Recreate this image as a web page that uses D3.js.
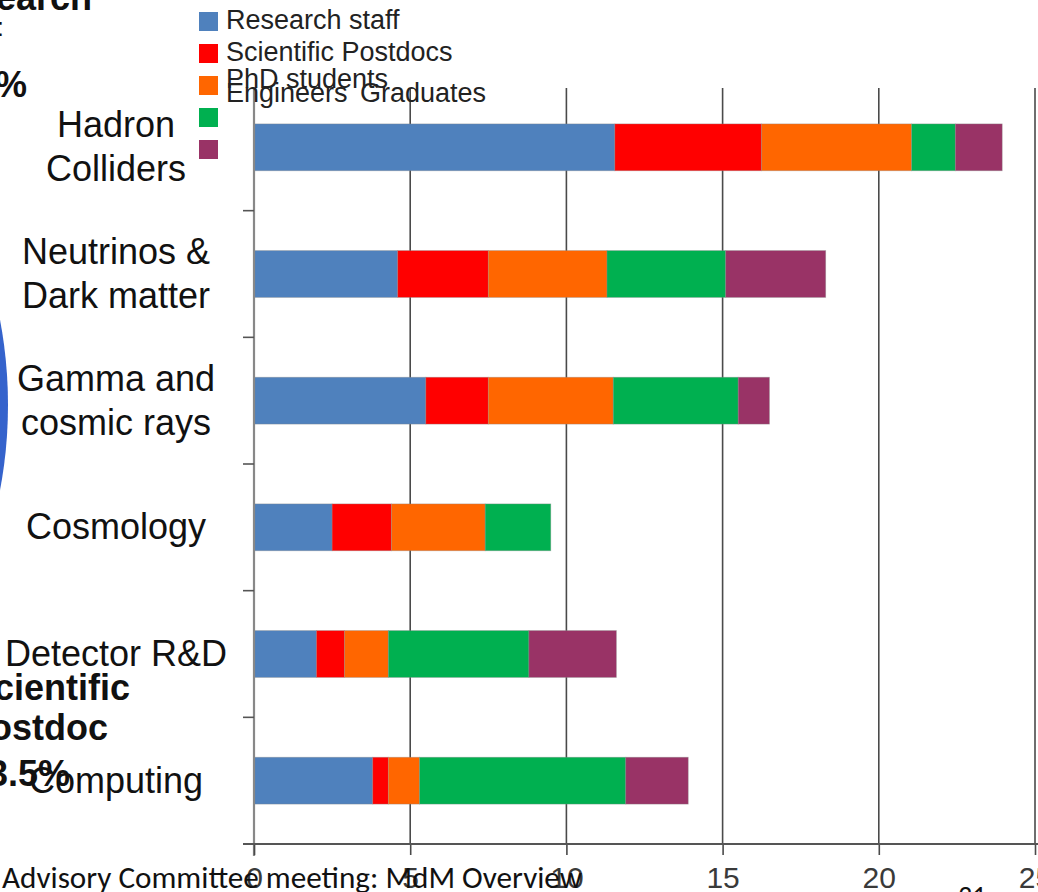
<!DOCTYPE html>
<html>
<head>
<meta charset="utf-8">
<script src="https://cdn.jsdelivr.net/npm/d3@7"></script>
<style>
  html, body { margin: 0; padding: 0; background: #fff; }
  svg { display: block; }
</style>
</head>
<body>
<script>
// Staff per research line, stacked by position type (FTE)
const categories = ["Hadron Colliders", "Neutrinos & Dark matter", "Gamma and cosmic rays",
                    "Cosmology", "Detector R&D", "Computing"];
const categoryLines = [["Hadron", "Colliders"], ["Neutrinos &", "Dark matter"],
                       ["Gamma and", "cosmic rays"], ["Cosmology"], ["Detector R&D"], ["Computing"]];

const seriesNames = ["Research staff", "Scientific Postdocs", "PhD students", "Engineers", "Graduates"];
const researchStaff = [11.55, 4.6, 5.5, 2.5, 2.0, 3.8];
const postdocs      = [4.7, 2.9, 2.0, 1.9, 0.9, 0.5];
const phdStudents   = [4.8, 3.8, 4.0, 3.0, 1.4, 1.0];
const engineers     = [1.4, 3.8, 4.0, 2.1, 4.5, 6.6];
const graduates     = [1.5, 3.2, 1.0, 0.0, 2.8, 2.0];
const xTicks = [0, 5, 10, 15, 20, 25];

const colors = ["#4f81bd", "#ff0000", "#ff6600", "#00b050", "#993366"];

const W = 1038, H = 892;
const svg = d3.select("body").append("svg").attr("width", W).attr("height", H);
svg.append("rect").attr("width", W).attr("height", H).attr("fill", "#fff");

const plotTop = 84, plotBottom = 844;
const x = d3.scaleLinear().domain([0, 25]).range([254, 1035]);
const y = d3.scaleBand().domain(categories).range([plotTop, plotBottom])
  .paddingInner(0.63).paddingOuter(0.315);

// stacked layout
const rows = categories.map((c, i) => ({
  cat: c,
  "Research staff": researchStaff[i],
  "Scientific Postdocs": postdocs[i],
  "PhD students": phdStudents[i],
  "Engineers": engineers[i],
  "Graduates": graduates[i]
}));
const stacked = d3.stack().keys(seriesNames)(rows);

// vertical gridlines
svg.append("g").selectAll("line").data(xTicks.slice(1)).join("line")
  .attr("x1", d => x(d)).attr("x2", d => x(d))
  .attr("y1", 88).attr("y2", plotBottom)
  .attr("stroke", "#4a4a4a").attr("stroke-width", 1.6);

// bars
svg.append("g").selectAll("g").data(stacked).join("g")
  .attr("fill", (d, i) => colors[i])
  .selectAll("rect").data(d => d.filter(s => s[1] > s[0])).join("rect")
  .attr("x", d => x(d[0]))
  .attr("width", d => x(d[1]) - x(d[0]))
  .attr("y", d => y(d.data.cat))
  .attr("height", y.bandwidth())
  .attr("stroke", "rgba(140,140,140,0.45)").attr("stroke-width", 0.8);

// y axis line and category separators
svg.append("line").attr("x1", 254).attr("x2", 254).attr("y1", 88).attr("y2", plotBottom + 12)
  .attr("stroke", "#888").attr("stroke-width", 2.2);
const step = y.step();
const boundaries = categories.slice(1).map(c => y(c) - step * y.paddingInner() / 2);
svg.append("g").selectAll("line").data(boundaries).join("line")
  .attr("x1", 243).attr("x2", 254).attr("y1", d => d).attr("y2", d => d)
  .attr("stroke", "#555").attr("stroke-width", 1.6);

// x axis
const xAxis = svg.append("g").attr("transform", `translate(0,${plotBottom})`)
  .call(d3.axisBottom(x).tickValues(xTicks).tickSizeInner(11).tickSizeOuter(0).tickPadding(12));
xAxis.select(".domain").remove();
xAxis.append("line").attr("x1", 243).attr("x2", W).attr("y1", 0).attr("y2", 0)
  .attr("stroke", "#555").attr("stroke-width", 1.8);
xAxis.selectAll(".tick line").attr("stroke", "#4a4a4a").attr("stroke-width", 1.6);
xAxis.selectAll(".tick text")
  .attr("font-family", "Liberation Sans, Arial, sans-serif")
  .attr("font-size", 30).attr("fill", "#3a3a3a");

// category labels
const lab = svg.append("g").attr("font-family", "Liberation Sans, Arial, sans-serif")
  .attr("font-size", 36).attr("fill", "#111").attr("text-anchor", "middle");
categories.forEach((c, i) => {
  const cy = y(c) + y.bandwidth() / 2;
  const lines = categoryLines[i];
  const t = lab.append("text").attr("x", 116);
  lines.forEach((ln, j) => {
    const base = lines.length === 1 ? cy + 12 : cy - 10 + j * 44;
    t.append("tspan").attr("x", 116).attr("y", base).text(ln);
  });
});

// legend
const legendTextX = [226, 226, 226, 226, 360];
const legendTextY = [29, 61, 88, 102, 102];
const lg = svg.append("g").attr("font-family", "Liberation Sans, Arial, sans-serif")
  .attr("font-size", 27).attr("fill", "#222");
seriesNames.forEach((s, i) => {
  lg.append("rect").attr("x", 199).attr("y", 12 + i * 32).attr("width", 19).attr("height", 19)
    .attr("fill", colors[i]);
  lg.append("text").attr("x", legendTextX[i]).attr("y", legendTextY[i]).text(s);
});

// slide elements around the chart: pie edge, side notes, footer
svg.append("ellipse").attr("cx", -200).attr("cy", 405).attr("rx", 208).attr("ry", 310)
  .attr("fill", "#3563cc");

const side = svg.append("g").attr("font-family", "Liberation Sans, Arial, sans-serif")
  .attr("font-weight", "bold").attr("font-size", 36).attr("fill", "#111").attr("text-anchor", "end");
side.append("text").attr("x", 92).attr("y", 10).text("Research");
side.append("text").attr("x", 4).attr("y", 36).attr("font-weight", "normal").attr("font-size", 26).text("staff:");
side.append("text").attr("x", 27).attr("y", 97).text("46%");
side.append("text").attr("x", 130).attr("y", 700).text("Scientific");
side.append("text").attr("x", 108).attr("y", 740).text("Postdoc");
side.append("text").attr("x", 70).attr("y", 786).text("13.5%");

const foot = svg.append("g").attr("font-family", "Carlito, Lato, Open Sans, sans-serif").attr("fill", "#111");
foot.append("text").attr("x", 2).attr("y", 888).attr("font-size", 30)
  .attr("textLength", 580).attr("lengthAdjust", "spacingAndGlyphs")
  .text("Advisory Committee meeting: MdM Overview");
foot.append("text").attr("x", 958).attr("y", 906).attr("font-size", 28).text("31");
</script>
</body>
</html>
